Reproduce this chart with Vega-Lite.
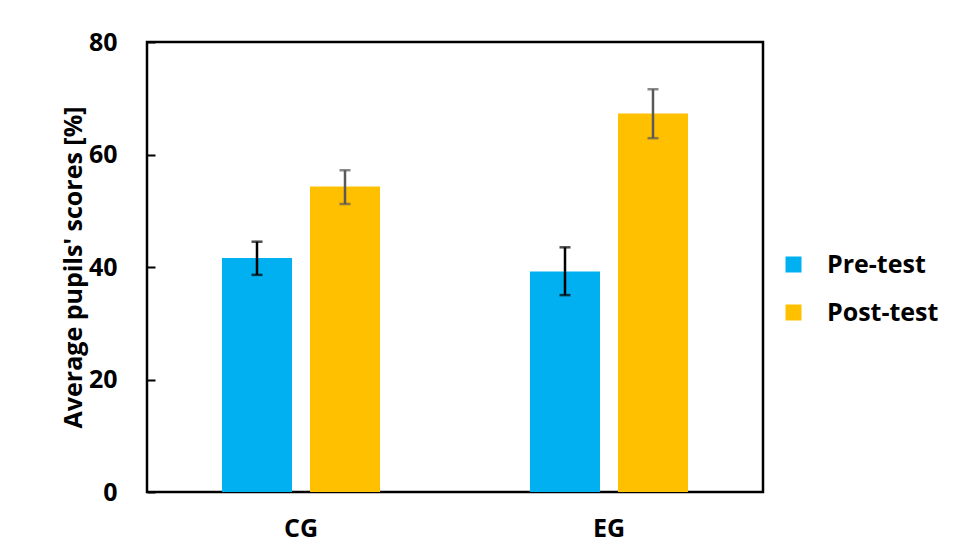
{
  "$schema": "https://vega.github.io/schema/vega-lite/v6.json",
  "width": 616,
  "height": 450,
  "autosize": {"type": "none"},
  "padding": {"left": 147, "top": 42, "right": 195, "bottom": 67},
  "background": "white",
  "config": {
    "view": {"stroke": "black", "strokeWidth": 2.5},
    "font": "Open Sans"
  },
  "data": {
    "values": [
      {"group": "CG", "test": "Pre-test", "value": 41.6, "lo": 38.6, "hi": 44.5},
      {"group": "CG", "test": "Post-test", "value": 54.3, "lo": 51.2, "hi": 57.2},
      {"group": "EG", "test": "Pre-test", "value": 39.2, "lo": 35.0, "hi": 43.5},
      {"group": "EG", "test": "Post-test", "value": 67.3, "lo": 62.9, "hi": 71.6}
    ]
  },
  "encoding": {
    "x": {
      "field": "group",
      "type": "nominal",
      "scale": {"paddingInner": 0.487, "paddingOuter": 0.2435},
      "axis": {
        "title": null,
        "labelAngle": 0,
        "labelFontSize": 25,
        "labelFontWeight": "bold",
        "labelColor": "black",
        "labelPadding": 24,
        "ticks": false,
        "domain": false
      }
    },
    "xOffset": {
      "field": "test",
      "type": "nominal",
      "sort": ["Pre-test", "Post-test"],
      "scale": {"paddingInner": 0.2045, "paddingOuter": 0}
    }
  },
  "layer": [
    {
      "mark": {"type": "bar"},
      "encoding": {
        "y": {
          "field": "value",
          "type": "quantitative",
          "scale": {"domain": [0, 80]},
          "axis": {
            "title": "Average pupils' scores [%]",
            "titleFontSize": 25,
            "titleFontWeight": "bold",
            "titleColor": "black",
            "titlePadding": 2,
            "values": [0, 20, 40, 60, 80],
            "labelFontSize": 25,
            "labelFontWeight": "bold",
            "labelColor": "black",
            "labelPadding": 38,
            "tickSize": -8,
            "tickColor": "black",
            "tickWidth": 2,
            "grid": false,
            "domain": false
          }
        },
        "color": {
          "field": "test",
          "type": "nominal",
          "sort": ["Pre-test", "Post-test"],
          "scale": {"domain": ["Pre-test", "Post-test"], "range": ["#00B0F0", "#FFC000"]},
          "legend": {
            "title": null,
            "orient": "none",
            "legendX": 634,
            "legendY": 210,
            "padding": 0,
            "symbolType": "square",
            "symbolSize": 256,
            "symbolStrokeWidth": 0,
            "symbolOpacity": 1,
            "labelFontSize": 25,
            "labelFontWeight": "bold",
            "labelColor": "black",
            "labelOffset": 21,
            "rowPadding": 22
          }
        }
      }
    },
    {
      "mark": {"type": "rule", "strokeWidth": 2.5},
      "encoding": {
        "y": {"field": "lo", "type": "quantitative"},
        "y2": {"field": "hi"},
        "color": {"condition": {"test": "datum.test === 'Pre-test'", "value": "black"}, "value": "#595959"}
      }
    },
    {
      "mark": {"type": "tick", "size": 11, "thickness": 2.5},
      "encoding": {
        "y": {"field": "lo", "type": "quantitative"},
        "color": {"condition": {"test": "datum.test === 'Pre-test'", "value": "black"}, "value": "#595959"}
      }
    },
    {
      "mark": {"type": "tick", "size": 11, "thickness": 2.5},
      "encoding": {
        "y": {"field": "hi", "type": "quantitative"},
        "color": {"condition": {"test": "datum.test === 'Pre-test'", "value": "black"}, "value": "#595959"}
      }
    }
  ]
}
